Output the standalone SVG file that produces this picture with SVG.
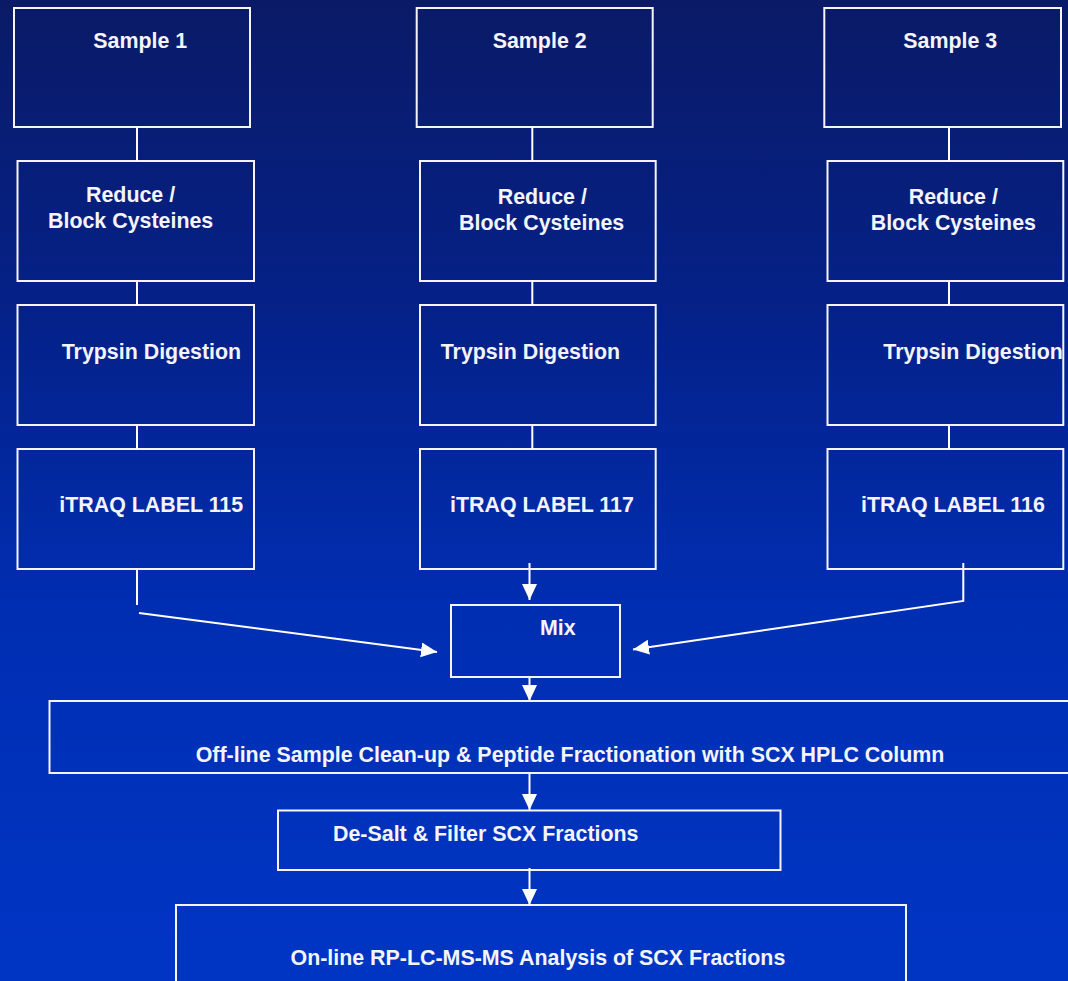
<svg xmlns="http://www.w3.org/2000/svg" width="1068" height="981" viewBox="0 0 1068 981">
  <defs>
    <linearGradient id="bg" x1="0" y1="0" x2="0" y2="1">
      <stop offset="0" stop-color="#0a1a66"/>
      <stop offset="0.35" stop-color="#04228c"/>
      <stop offset="0.62" stop-color="#002eb2"/>
      <stop offset="1" stop-color="#0035c4"/>
    </linearGradient>
    <marker id="arrow" markerUnits="userSpaceOnUse" markerWidth="17" markerHeight="16" refX="16" refY="7.5" orient="auto">
      <path d="M0,0 L16,7.5 L0,15 Z" fill="#ffffff"/>
    </marker>
  </defs>
  <style>
    .box { fill: none; stroke: #f4f4fa; stroke-width: 2; }
    .lbl { font-family: "Liberation Sans", Arial, sans-serif; font-weight: bold; font-size: 21.4px; fill: #f4f4fa; }
    .wire { fill: none; stroke: #ffffff; stroke-width: 2; }
  </style>

  <rect x="0" y="0" width="1068" height="981" fill="url(#bg)"/>

  <!-- column 1 -->
  <g id="sample1"><rect class="box" x="14" y="8" width="236" height="119"/><text class="lbl" x="93.3" y="47.7">Sample 1</text></g>
  <g id="reduce1"><rect class="box" x="17.5" y="161" width="236.5" height="120"/><text class="lbl" x="86" y="201.7">Reduce /</text><text class="lbl" x="48" y="227.7">Block Cysteines</text></g>
  <g id="trypsin1"><rect class="box" x="17.5" y="305" width="236.5" height="120"/><text class="lbl" x="61.7" y="359">Trypsin Digestion</text></g>
  <g id="itraq115"><rect class="box" x="17.5" y="449" width="236.5" height="120"/><text class="lbl" x="59.3" y="511.7">iTRAQ LABEL 115</text></g>

  <!-- column 2 -->
  <g id="sample2"><rect class="box" x="416.7" y="8" width="236" height="119"/><text class="lbl" x="492.7" y="47.5">Sample 2</text></g>
  <g id="reduce2"><rect class="box" x="420" y="161" width="235.7" height="120"/><text class="lbl" x="497.7" y="204">Reduce /</text><text class="lbl" x="459" y="230">Block Cysteines</text></g>
  <g id="trypsin2"><rect class="box" x="420" y="305" width="235.7" height="120"/><text class="lbl" x="440.7" y="359">Trypsin Digestion</text></g>
  <g id="itraq117"><rect class="box" x="420" y="449" width="235.7" height="120"/><text class="lbl" x="450" y="511.7">iTRAQ LABEL 117</text></g>

  <!-- column 3 -->
  <g id="sample3"><rect class="box" x="824.3" y="8" width="236.7" height="119"/><text class="lbl" x="903.3" y="47.7">Sample 3</text></g>
  <g id="reduce3"><rect class="box" x="827.5" y="161" width="235.8" height="120"/><text class="lbl" x="908.7" y="204">Reduce /</text><text class="lbl" x="870.7" y="230">Block Cysteines</text></g>
  <g id="trypsin3"><rect class="box" x="827.5" y="305" width="235.8" height="120"/><text class="lbl" x="883.3" y="359">Trypsin Digestion</text></g>
  <g id="itraq116"><rect class="box" x="827.5" y="449" width="235.8" height="120"/><text class="lbl" x="861" y="511.7">iTRAQ LABEL 116</text></g>

  <!-- pooled steps -->
  <g id="mix"><rect class="box" x="451" y="605" width="169" height="72"/><text class="lbl" x="540" y="635">Mix</text></g>
  <g id="offline"><rect class="box" x="49.5" y="701" width="1030" height="72"/><text class="lbl" x="195.7" y="761.7">Off-line Sample Clean-up &amp; Peptide Fractionation with SCX HPLC Column</text></g>
  <g id="desalt"><rect class="box" x="278" y="810.5" width="502.5" height="59.5"/><text class="lbl" x="333" y="841">De-Salt &amp; Filter SCX Fractions</text></g>
  <g id="online"><rect class="box" x="176" y="905" width="730" height="90"/><text class="lbl" x="290.5" y="964.5">On-line RP-LC-MS-MS Analysis of SCX Fractions</text></g>

  <!-- connectors -->
  <g id="connectors">
    <line class="wire" x1="137" y1="127" x2="137" y2="161"/>
    <line class="wire" x1="137" y1="281" x2="137" y2="305"/>
    <line class="wire" x1="137" y1="425" x2="137" y2="449"/>
    <line class="wire" x1="532.3" y1="127" x2="532.3" y2="161"/>
    <line class="wire" x1="532.3" y1="281" x2="532.3" y2="305"/>
    <line class="wire" x1="532.3" y1="425" x2="532.3" y2="449"/>
    <line class="wire" x1="949" y1="127" x2="949" y2="161"/>
    <line class="wire" x1="949" y1="281" x2="949" y2="305"/>
    <line class="wire" x1="949" y1="425" x2="949" y2="449"/>

    <line class="wire" x1="137" y1="569" x2="137" y2="605"/>
    <line class="wire" x1="139" y1="613" x2="437" y2="652" marker-end="url(#arrow)"/>
    <line class="wire" x1="529.5" y1="563" x2="529.5" y2="600" marker-end="url(#arrow)"/>
    <polyline class="wire" points="963.3,563 963.3,601 633,649.5" marker-end="url(#arrow)"/>

    <line class="wire" x1="529.5" y1="677" x2="529.5" y2="701" marker-end="url(#arrow)"/>
    <line class="wire" x1="529.5" y1="773" x2="529.5" y2="810" marker-end="url(#arrow)"/>
    <line class="wire" x1="529.5" y1="868" x2="529.5" y2="905" marker-end="url(#arrow)"/>
  </g>
</svg>
